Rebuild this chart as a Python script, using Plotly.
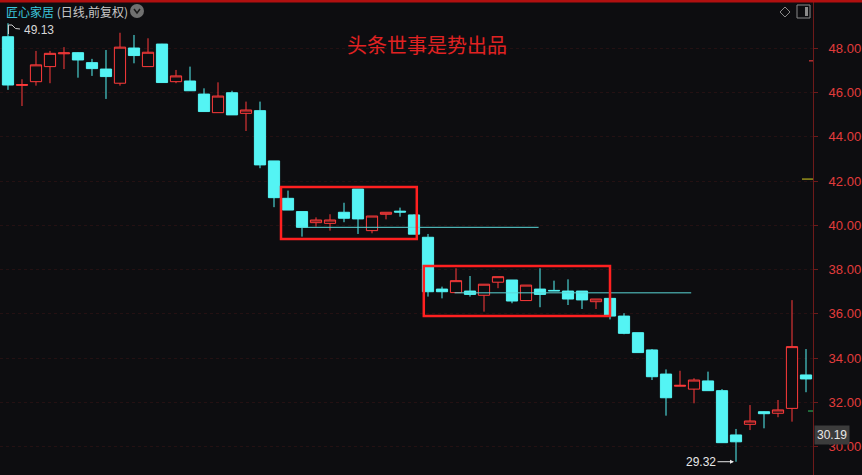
import plotly.graph_objects as go

# ---- data ----
idx = list(range(58))
opens = [48.52, 46.32, 46.49, 47.17, 47.75, 47.80, 47.35, 47.06, 46.42, 48.01,
         47.17, 48.19, 46.49, 46.52, 45.93, 45.09, 45.99, 45.06, 45.18, 42.91,
         41.22, 40.62, 40.12, 40.09, 40.59, 41.64, 39.76, 40.50, 40.64, 40.47,
         39.46, 37.12, 36.96, 37.03, 36.84, 37.43, 37.53, 36.60, 37.12, 37.06,
         37.03, 37.03, 36.55, 36.70, 35.90, 35.15, 34.37, 33.28, 32.73, 32.60,
         32.97, 32.53, 30.53, 31.01, 31.58, 31.51, 31.73, 33.24]
highs = [49.13, 46.60, 47.88, 47.88, 48.05, 47.82, 47.52, 47.92, 48.70, 48.60,
         48.45, 48.20, 47.02, 47.17, 46.19, 46.46, 46.08, 45.59, 45.59, 42.91,
         41.57, 40.62, 40.36, 40.50, 41.02, 41.64, 40.42, 40.59, 40.80, 40.50,
         39.61, 37.23, 38.06, 37.71, 37.34, 37.68, 37.53, 37.30, 38.06, 37.50,
         37.56, 37.03, 36.67, 36.70, 36.03, 35.15, 34.41, 33.49, 33.43, 33.09,
         33.39, 32.60, 30.80, 31.88, 31.60, 32.11, 36.62, 34.41]
lows = [46.12, 45.39, 46.31, 46.42, 47.06, 46.67, 46.75, 45.71, 46.31, 47.32,
        47.17, 46.45, 46.42, 46.08, 45.14, 45.09, 44.99, 44.26, 42.58, 40.82,
        40.69, 39.49, 39.94, 39.76, 40.14, 39.61, 39.64, 40.27, 40.39, 39.60,
        36.78, 36.70, 36.96, 36.78, 36.10, 37.16, 36.48, 36.60, 36.30, 37.04,
        36.40, 36.22, 36.22, 35.75, 35.08, 34.25, 33.01, 31.40, 32.73, 31.96,
        32.53, 30.18, 29.32, 30.75, 30.83, 31.33, 31.13, 32.46]
closes = [46.34, 46.36, 47.25, 47.77, 47.79, 47.47, 47.08, 46.72, 48.05, 47.67,
          47.82, 46.45, 46.75, 46.08, 45.14, 45.84, 44.99, 45.21, 42.73, 41.25,
          40.69, 39.91, 40.24, 40.24, 40.32, 40.29, 40.42, 40.59, 40.60, 39.60,
          37.00, 37.00, 37.50, 36.88, 37.34, 37.68, 36.58, 37.30, 36.88, 37.04,
          36.67, 36.63, 36.67, 35.90, 35.12, 34.25, 33.16, 32.21, 32.77, 33.01,
          32.53, 30.18, 30.22, 31.16, 31.49, 31.66, 34.52, 33.06]

# horizontal reference lines (start idx, end idx, price)
line1_x = [20.7, 37.9]
line1_y = [39.91, 39.91]
line2_x = [31.9, 48.8]
line2_y = [36.95, 36.95]

# highlight boxes: (x0, x1, y0, y1) in index / price units
box1 = [19.5, 29.2, 39.38, 41.73]
box2 = [29.7, 43.0, 35.90, 38.16]

y_ticks = [30, 32, 34, 36, 38, 40, 42, 44, 46, 48]
y_tick_text = ["%.2f" % v for v in y_ticks]

title_text = "头条世事是势出品"
stock_name = "匠心家居"
stock_sub = "(日线,前复权)"
high_label = "49.13"
low_label = "29.32"
last_label = "30.19"

# ---- figure ----
BG = "#0d0d10"
RED = "#ff3b3b"
CYAN = "#54f4f4"
W, H = 862, 475
PW, PH = 813, 475


def px(x):
    return x / PW


def py(y):
    return 1 - y / PH


fig = go.Figure()
fig.add_trace(go.Candlestick(
    x=idx, open=opens, high=highs, low=lows, close=closes,
    increasing=dict(line=dict(color=RED, width=1), fillcolor=BG),
    decreasing=dict(line=dict(color=CYAN, width=1), fillcolor=CYAN),
    whiskerwidth=0, hoverinfo="skip", showlegend=False,
))
fig.add_trace(go.Scatter(x=line1_x, y=line1_y, mode="lines",
                         line=dict(color="#5ad6d6", width=1),
                         hoverinfo="skip", showlegend=False))
fig.add_trace(go.Scatter(x=line2_x, y=line2_y, mode="lines",
                         line=dict(color="#5ad6d6", width=1),
                         hoverinfo="skip", showlegend=False))

shapes = []
for b in (box1, box2):
    shapes.append(dict(type="rect", xref="x", yref="y", x0=b[0], x1=b[1],
                       y0=b[2], y1=b[3], line=dict(color="#ff2020", width=2.5)))
# top red bar
shapes.append(dict(type="line", xref="paper", yref="paper", x0=0, x1=px(W),
                   y0=py(1), y1=py(1), line=dict(color="#b01010", width=3)))
# dropdown circle
shapes.append(dict(type="circle", xref="paper", yref="paper",
                   x0=px(130), x1=px(144), y0=py(18), y1=py(4),
                   fillcolor="#707070", line=dict(width=0)))
shapes.append(dict(type="path", xref="paper", yref="paper",
                   path="M %f,%f L %f,%f L %f,%f" % (px(134), py(9), px(137), py(13), px(140), py(9)),
                   line=dict(color="#1a1a1a", width=1.5)))
# top-right icons: diamond and panel box
shapes.append(dict(type="path", xref="paper", yref="paper",
                   path="M %f,%f L %f,%f L %f,%f L %f,%f Z" % (
                       px(780), py(12), px(785), py(7), px(790), py(12), px(785), py(17)),
                   line=dict(color="#8a8a8a", width=1)))
shapes.append(dict(type="rect", xref="paper", yref="paper",
                   x0=px(797), x1=px(810), y0=py(18), y1=py(5),
                   line=dict(color="#8a8a8a", width=1)))
shapes.append(dict(type="rect", xref="paper", yref="paper",
                   x0=px(805), x1=px(808), y0=py(16), y1=py(7),
                   fillcolor="#8a8a8a", line=dict(width=0)))
# small markers on the axis
shapes.append(dict(type="line", xref="paper", yref="y", x0=px(802), x1=px(813),
                   y0=42.09, y1=42.09, line=dict(color="#d8d020", width=1)))
shapes.append(dict(type="line", xref="paper", yref="y", x0=px(809), x1=px(813),
                   y0=47.43, y1=47.43, line=dict(color="#ff4040", width=1)))
shapes.append(dict(type="line", xref="paper", yref="y", x0=px(808), x1=px(813),
                   y0=31.61, y1=31.61, line=dict(color="#30c060", width=1)))
# flag near the high
shapes.append(dict(type="path", xref="paper", yref="paper",
                   path="M %f,%f L %f,%f L %f,%f Q %f,%f %f,%f" % (
                       px(8.5), py(34), px(8.5), py(25), px(12), py(25),
                       px(15), py(30), px(20), py(29)),
                   line=dict(color="#d0d0d0", width=1)))

annotations = [
    dict(xref="paper", yref="paper", x=px(4), y=py(11), xanchor="left", yanchor="middle",
         text='<span style="color:#3cc6dc">%s</span> <span style="color:#c8c8c8">%s</span>' % (stock_name, stock_sub),
         showarrow=False, font=dict(size=12, family="Noto Sans CJK SC")),
    dict(xref="paper", yref="paper", x=px(427), y=py(45), xanchor="center", yanchor="middle",
         text=title_text, showarrow=False,
         font=dict(size=20, color="#e02222", family="Noto Sans CJK SC")),
    dict(xref="paper", yref="paper", x=px(22), y=py(30), xanchor="left", yanchor="middle",
         text=high_label, showarrow=False,
         font=dict(size=12, color="#d8d8d8", family="Liberation Sans")),
    dict(xref="x", yref="y", x=idx[52], y=lows[52], ax=-35, ay=0,
         text=low_label, showarrow=True, arrowhead=2, arrowsize=0.8, arrowwidth=1,
         arrowcolor="#e8e8e8", standoff=2,
         font=dict(size=12, color="#e8e8e8", family="Liberation Sans")),
    dict(xref="paper", yref="paper", x=px(814), y=py(435), xanchor="left", yanchor="middle",
         text=last_label, showarrow=False, bgcolor="#3c3c3c", borderpad=2,
         font=dict(size=12, color="#e8e8e8", family="Liberation Sans")),
]

fig.update_layout(
    width=W, height=H,
    margin=dict(l=0, r=W - PW, t=0, b=0),
    paper_bgcolor=BG, plot_bgcolor=BG,
    boxgap=0.2, boxgroupgap=0,
    shapes=shapes, annotations=annotations,
    hovermode=False, showlegend=False,
    xaxis=dict(visible=False, range=[-0.571, 57.5], rangeslider=dict(visible=False),
               fixedrange=True),
    yaxis=dict(side="right", range=[28.72, 50.18], tickvals=y_ticks, ticktext=y_tick_text,
               showline=True, linecolor="#6e1a1a", linewidth=1, mirror=False,
               ticks="outside", ticklen=4, tickcolor="#6e1a1a",
               tickfont=dict(size=13, color="#e23c3c", family="Liberation Sans"),
               ticklabelstandoff=8,
               showgrid=True, gridcolor="#241113", griddash="dot", gridwidth=1,
               zeroline=False, fixedrange=True),
)

fig.write_html("out.html", config=dict(displayModeBar=False),
               post_script="document.body.style.margin='0px';document.body.style.background='%s';" % BG)
